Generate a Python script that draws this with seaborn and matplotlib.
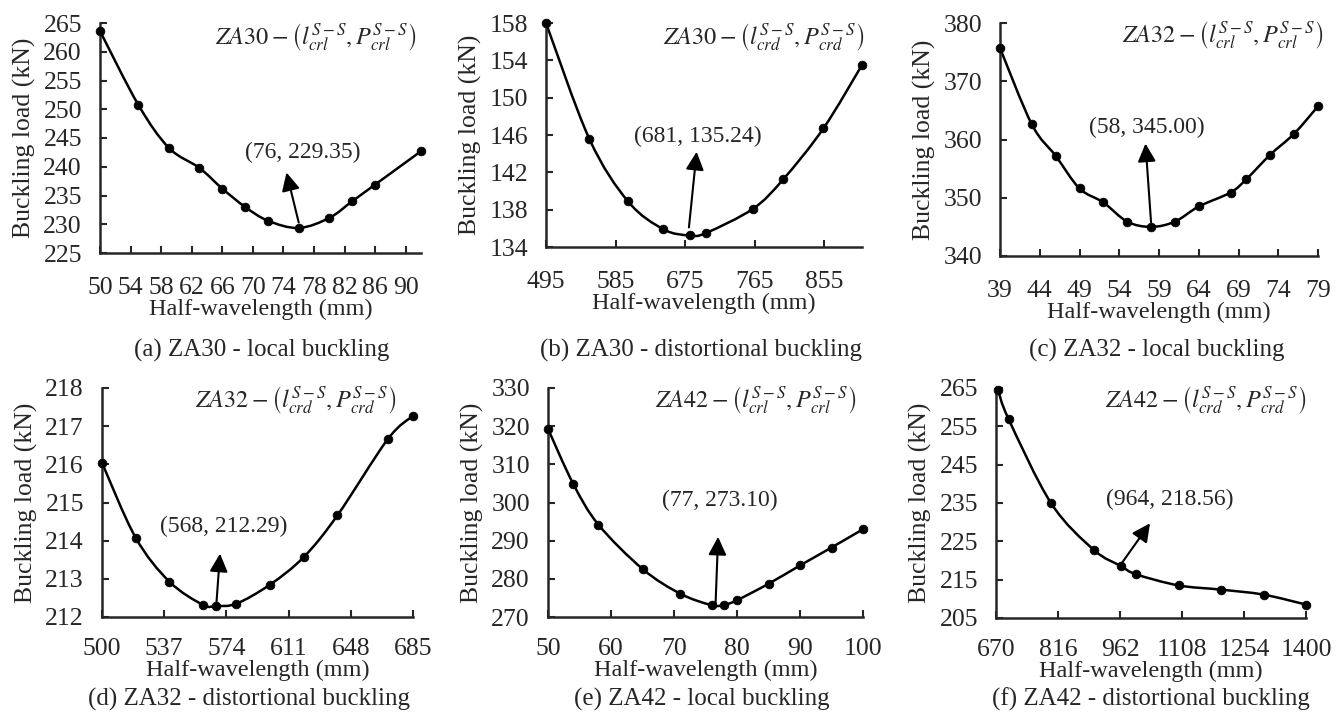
import numpy as np
import pandas as pd
import matplotlib
matplotlib.use('Agg')
import matplotlib.pyplot as plt
from matplotlib.path import Path
from matplotlib.patches import PathPatch
import seaborn as sns

# values
a_x = [50, 55, 59, 63, 66, 69, 72, 76, 80, 83, 86, 92]
a_y = [263.6, 250.8, 243.3, 239.8, 236.2, 233.0, 230.6, 229.35, 231.1, 234.0, 236.9, 242.7]

b_x = [495, 551, 601, 647, 681, 702, 763, 802, 854, 904]
b_y = [158.0, 145.6, 138.9, 135.9, 135.24, 135.5, 138.1, 141.25, 146.7, 153.5]

c_x = [39, 43, 46, 49, 52, 55, 58, 61, 64, 68, 70, 73, 76, 79]
c_y = [375.7, 362.6, 357.2, 351.6, 349.2, 345.9, 345.0, 345.9, 348.5, 350.9, 353.2, 357.4, 361.0, 365.7]

d_x = [500, 520, 540, 560, 568, 580, 600, 620, 640, 670, 685]
d_y = [216.04, 214.08, 212.93, 212.32, 212.29, 212.35, 212.85, 213.57, 214.66, 216.66, 217.27]

e_x = [50, 54, 58, 65, 71, 76, 78, 80, 85, 90, 95, 100]
e_y = [319.3, 304.9, 294.2, 282.6, 276.1, 273.1, 273.2, 274.4, 278.7, 283.5, 288.2, 293.0]

f_x = [675, 700, 800, 900, 964, 1000, 1100, 1200, 1300, 1400]
f_y = [264.4, 256.8, 234.9, 222.8, 218.56, 216.4, 213.5, 212.4, 211.1, 208.5]

min_labels = ['(76, 229.35)', '(681, 135.24)', '(58, 345.00)',
              '(568, 212.29)', '(77, 273.10)', '(964, 218.56)']

curve_labels = [r'$ZA30-\left(l_{crl}^{S-S},P_{crl}^{S-S}\right)$',
                r'$ZA30-\left(l_{crd}^{S-S},P_{crd}^{S-S}\right)$',
                r'$ZA32-\left(l_{crl}^{S-S},P_{crl}^{S-S}\right)$',
                r'$ZA32-\left(l_{crd}^{S-S},P_{crd}^{S-S}\right)$',
                r'$ZA42-\left(l_{crl}^{S-S},P_{crl}^{S-S}\right)$',
                r'$ZA42-\left(l_{crd}^{S-S},P_{crd}^{S-S}\right)$']

captions = ['(a) ZA30 - local buckling', '(b) ZA30 - distortional buckling',
            '(c) ZA32 - local buckling', '(d) ZA32 - distortional buckling',
            '(e) ZA42 - local buckling', '(f) ZA42 - distortional buckling']

xlims = [(50, 92), (495, 904), (39, 79), (500, 685), (50, 100), (670, 1400)]
xticks = [np.arange(50, 91, 4), np.arange(495, 856, 90), np.arange(39, 80, 5),
          np.arange(500, 686, 37), np.arange(50, 101, 10), np.arange(670, 1401, 146)]
yticks = [np.arange(225, 266, 5), np.arange(134, 159, 4), np.arange(340, 381, 10),
          np.arange(212, 219, 1), np.arange(270, 331, 10), np.arange(205, 266, 10)]

# layout (pixels) and annotation placement (data coords)
W, H = 1344, 725
boxes = [(100, 23, 421, 253), (546, 23, 862, 247), (1000, 23, 1318, 256),
         (102, 388, 413, 617), (548, 388, 863, 617), (996, 388, 1306, 618)]
xtick_pad = [17, 17, 17, 15, 15, 15]
label_pos = [(417, 37), (865, 37), (1324, 35), (397, 400), (857, 400), (1307, 400)]
text_pos = [(76.5, 242.5), (692, 145.8), (57.5, 362.1), (572.6, 214.38), (77.3, 300.6), (1080, 235.8)]
arrow_tail = [(76, 230.3), (680, 136.1), (58, 345.8), (568, 212.32), (76.6, 273.5), (963.5, 218.9)]
arrow_head = [(74.4, 239.0), (690, 144.2), (57.3, 359.3), (570.2, 213.66), (77.0, 291.0), (1032.7, 229.7)]
caption_pos = [(262, 357), (701, 357), (1157, 357), (249, 706), (702, 706), (1151, 706)]

sns.set_style('ticks')
plt.rcParams['font.family'] = ['Liberation Serif', 'DejaVu Serif']
plt.rcParams['mathtext.fontset'] = 'stix'


def smooth_path(xs, ys):
    # excel-style smoothed line: cubic bezier segments through the points
    p = np.column_stack([xs, ys]).astype(float)
    verts = [p[0]]
    codes = [Path.MOVETO]
    n = len(p)
    for k in range(n - 1):
        p0 = p[k - 1] if k > 0 else p[k]
        p3 = p[k + 2] if k + 2 < n else p[k + 1]
        c1 = p[k] + (p[k + 1] - p0) / 6
        c2 = p[k + 1] - (p3 - p[k]) / 6
        verts += [c1, c2, p[k + 1]]
        codes += [Path.CURVE4] * 3
    return Path(verts, codes)


fig = plt.figure(figsize=(W / 100, H / 100), dpi=100)

series = [(a_x, a_y), (b_x, b_y), (c_x, c_y), (d_x, d_y), (e_x, e_y), (f_x, f_y)]

for i, (xs, ys) in enumerate(series):
    l, t, r, b = boxes[i]
    ax = fig.add_axes([l / W, 1 - b / H, (r - l) / W, (b - t) / H])
    df = pd.DataFrame({'x': xs, 'y': ys})
    ax.add_patch(PathPatch(smooth_path(df['x'], df['y']), facecolor='none',
                           edgecolor='black', lw=1.8, clip_on=False))
    sns.scatterplot(data=df, x='x', y='y', ax=ax, color='black', s=40,
                    edgecolor='black', clip_on=False, zorder=3)
    ax.set_xlim(*xlims[i])
    ax.set_ylim(yticks[i][0], yticks[i][-1])
    ax.set_xticks(xticks[i])
    ax.set_yticks(yticks[i])
    ax.tick_params(direction='in', length=5, width=1.5, labelsize=18.5)
    ax.tick_params(axis='x', pad=xtick_pad[i])
    ax.tick_params(axis='y', pad=13)
    sns.despine(ax=ax)
    for s in ['left', 'bottom']:
        ax.spines[s].set_linewidth(1.8)
    ax.set_xlabel('Half-wavelength (mm)', fontsize=17.5, labelpad=0)
    ax.set_ylabel('Buckling load (kN)', fontsize=18.5, labelpad=5)
    fig.text(label_pos[i][0] / W, 1 - label_pos[i][1] / H, curve_labels[i],
             ha='right', va='center', fontsize=17.5)
    ax.text(text_pos[i][0], text_pos[i][1], min_labels[i], ha='center', va='center', fontsize=17)
    ax.annotate('', xy=arrow_head[i], xytext=arrow_tail[i],
                arrowprops=dict(arrowstyle='-|>,head_width=0.55,head_length=1.1', color='black',
                                lw=1.5, shrinkA=0, shrinkB=0))
    fig.text(caption_pos[i][0] / W, 1 - caption_pos[i][1] / H, captions[i],
             ha='center', va='baseline', fontsize=18)

fig.savefig('out.png', dpi=100)
